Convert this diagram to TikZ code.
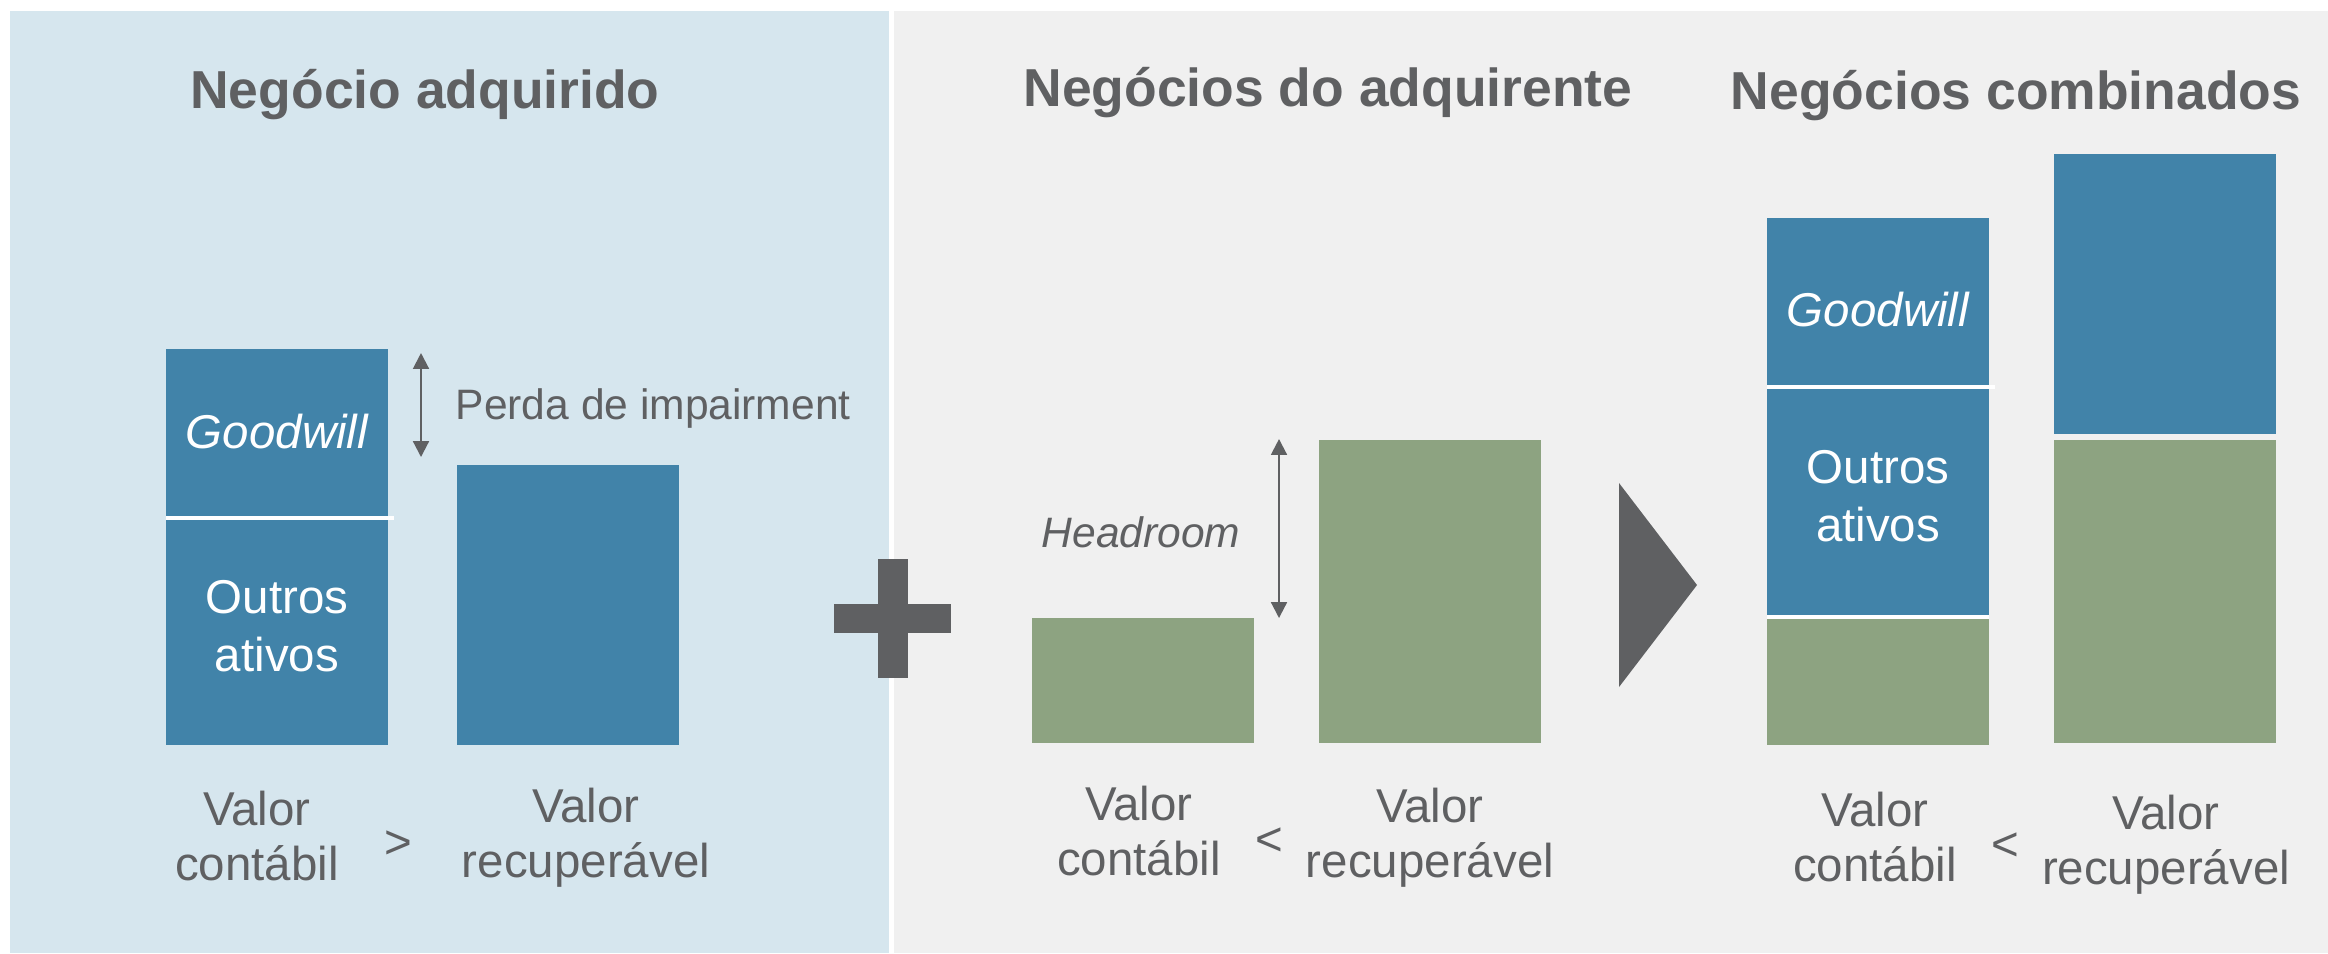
\documentclass[tikz,border=0pt]{standalone}
\usepackage{fontspec}
\setmainfont{Liberation Sans}
\usetikzlibrary{arrows.meta}
\definecolor{txtgray}{HTML}{5F6062}
\definecolor{barblue}{HTML}{4183A9}
\definecolor{bargreen}{HTML}{8DA381}
\definecolor{bgblue}{HTML}{D6E6EE}
\definecolor{bggray}{HTML}{F0F0F0}
\tikzset{
  titletext/.style={font=\fontsize{15.2}{18}\selectfont\bfseries, text=txtgray, inner sep=0pt, anchor=base},
  valtext/.style={font=\fontsize{13.5}{15.6}\selectfont, text=txtgray, align=center, inner sep=0pt},
  boxtext/.style={font=\fontsize{13.5}{16.5}\selectfont, text=white, align=center, inner sep=0pt},
  notetext/.style={font=\fontsize{12.1}{14}\selectfont, text=txtgray, inner sep=0pt},
  bluebar/.style={fill=barblue},
  greenbar/.style={fill=bargreen},
  sepline/.style={fill=white},
  dimarrow/.style={draw=txtgray, line width=0.6pt, {Triangle[width=4.5pt,length=4.5pt]}-{Triangle[width=4.5pt,length=4.5pt]}},
  symbol/.style={fill=txtgray}
}
\begin{document}
\begin{tikzpicture}[x=0.01cm,y=-0.01cm]
\useasboundingbox (0,0) rectangle (2328,953);
\fill[white] (0,0) rectangle (2328,953);
% panels
\fill[bgblue] (10,11) rectangle (889,953);
\fill[bggray] (894,11) rectangle (2328,953);

% titles
\node[titletext] (t1) at (425,108) {Negócio adquirido};
\node[titletext] (t2) at (1328,106) {Negócios do adquirente};
\node[titletext] (t3) at (2016,109) {Negócios combinados};

% left panel bars
\fill[bluebar] (166,349) rectangle (388,516);
\fill[sepline] (166,516) rectangle (394,520);
\fill[bluebar] (166,520) rectangle (388,745);
\fill[bluebar] (457,465) rectangle (679,745);
\node[boxtext] (gw1) at (277,432) {\itshape Goodwill};
\node[boxtext] (oa1) at (277,626) {Outros\\ativos};
\coordinate (a1t) at (421,353);
\coordinate (a1b) at (421,457);
\draw[dimarrow] (a1t) -- (a1b);
\node[notetext, anchor=base west] (perda) at (455,419) {Perda de impairment};
\node[valtext] (vc1) at (257,836) {Valor\\contábil};
\node[valtext] (gt1) at (398,845) {>};
\node[valtext] (vr1) at (586,838) {Valor\\recuperável};

% plus sign
\fill[symbol] (878,559) rectangle (908,678);
\fill[symbol] (834,604) rectangle (951,633);

% middle panel bars
\fill[greenbar] (1032,618) rectangle (1254,743);
\fill[greenbar] (1319,440) rectangle (1541,743);
\coordinate (a2t) at (1279,439);
\coordinate (a2b) at (1279,618);
\draw[dimarrow] (a2t) -- (a2b);
\node[notetext] (head) at (1141,532) {\itshape Headroom};
\node[valtext] (vc2) at (1139,831) {Valor\\contábil};
\node[valtext] (lt2) at (1269,842) {<};
\node[valtext] (vr2) at (1430,838) {Valor\\recuperável};

% triangle
\fill[symbol] (1619,483) -- (1697,585) -- (1619,687) -- cycle;

% right panel bars
\fill[bluebar] (1767,218) rectangle (1989,385);
\fill[sepline] (1767,385) rectangle (1995,389);
\fill[bluebar] (1767,389) rectangle (1989,615);
\fill[sepline] (1767,615) rectangle (1989,619);
\fill[greenbar] (1767,619) rectangle (1989,745);
\fill[bluebar] (2054,154) rectangle (2276,434);
\fill[greenbar] (2054,440) rectangle (2276,743);
\node[boxtext] (gw3) at (1878,310) {\itshape Goodwill};
\node[boxtext] (oa3) at (1878,496) {Outros\\ativos};
\node[valtext] (vc3) at (1875,837) {Valor\\contábil};
\node[valtext] (lt3) at (2005,847) {<};
\node[valtext] (vr3) at (2166,845) {Valor\\recuperável};
\end{tikzpicture}
\end{document}
